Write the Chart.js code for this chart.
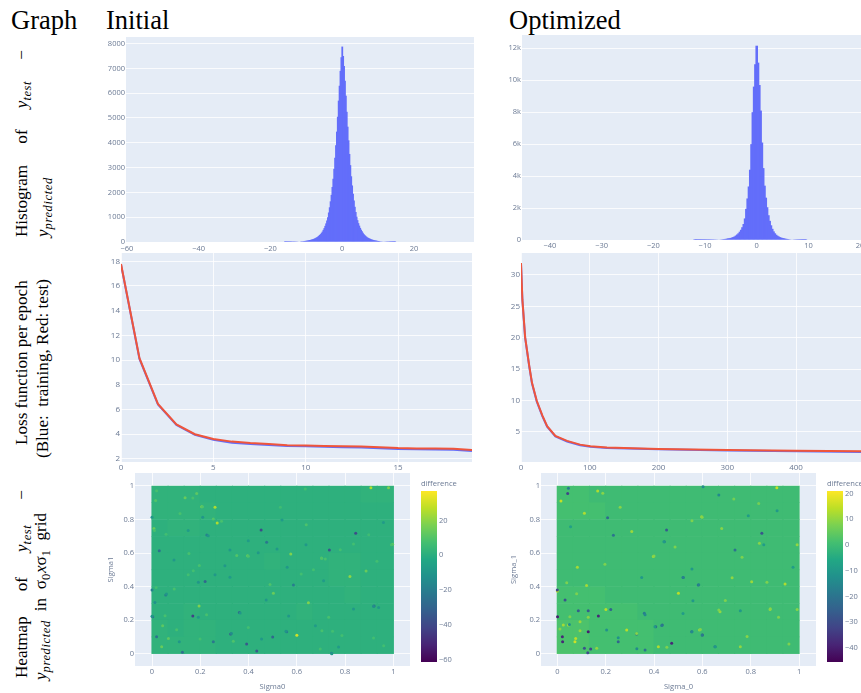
<!DOCTYPE html>
<html>
<head>
<meta charset="utf-8">
<title>Graph: Initial and Optimized</title>
<script src="https://cdn.jsdelivr.net/npm/chart.js@4"></script>
<style>
  html, body { margin: 0; padding: 0; background: #fff; }
  #page { position: relative; width: 861px; height: 693px; overflow: hidden; }
  canvas { position: absolute; filter: blur(0.6px); }
  .head { position: absolute; font: 26.5px "Liberation Serif", serif; line-height: 1; white-space: nowrap; color: #000; }
  .side { position: absolute; transform-origin: 0 0; transform: rotate(-90deg); font: 17.1px "Liberation Serif", serif; line-height: 18px; color: #000; white-space: nowrap; }
  .fit { text-align: justify; text-align-last: justify; white-space: normal; }
  .side sub { font-size: 12.5px; line-height: 0; letter-spacing: 0.6px; }
  .cb { position: absolute; font: 7.6px "Open Sans", sans-serif; line-height: 1; color: #6b7a94; white-space: nowrap; filter: blur(0.3px); }
</style>
</head>
<body>
<div id="page">
  <div class="head" style="left:11px;top:7px">Graph</div>
  <div class="head" style="left:106px;top:7px">Initial</div>
  <div class="head" style="left:509px;top:7px">Optimized</div>

  <div class="side fit" style="left:13px;top:237px;width:187px">Histogram of <i>y<sub>test</sub></i> −</div>
  <div class="side" style="left:34px;top:237px"><i>y<sub>predicted</sub></i></div>
  <div class="side" style="left:13px;top:445px">Loss function per epoch</div>
  <div class="side" style="left:34px;top:458px">(Blue:&nbsp; training, Red: test)</div>
  <div class="side fit" style="left:13px;top:678px;width:188px">Heatmap of <i>y<sub>test</sub></i> −</div>
  <div class="side fit" style="left:32px;top:680px;width:167px"><i>y<sub>predicted</sub></i> in σ<sub>0</sub><i>x</i>σ<sub>1</sub> grid</div>

  <div class="cb" style="left:421px;top:480px">difference</div>
  <div class="cb" style="left:827px;top:480px">difference</div>

  <canvas id="histInitial" width="374" height="217" style="left:100px;top:37px"></canvas>
  <canvas id="histOptimized" width="361" height="217" style="left:500px;top:35px"></canvas>
  <canvas id="lossInitial" width="371" height="219" style="left:101px;top:253px"></canvas>
  <canvas id="lossOptimized" width="361" height="219" style="left:500px;top:253px"></canvas>
  <canvas id="heatInitial" width="304" height="218" style="left:106px;top:473px"></canvas>
  <canvas id="heatOptimized" width="307" height="218" style="left:509px;top:473px"></canvas>
  <canvas id="barInitial" width="40" height="188" style="left:421px;top:484px"></canvas>
  <canvas id="barOptimized" width="34" height="188" style="left:827px;top:484px"></canvas>
</div>

<script>
// Histogramas: conteo por bin, leidos a ojo del contorno de cada panel
const histInitialStart = -16;
const histInitialWidth = 0.25;
const histInitialCounts = [3,3,4,4,5,5,6,7,8,9,10,11,13,14,16,18,20,23,26,29,32,36,40,45,50,56,62,70,78,88,98,110,122,138,155,175,195,222,250,285,320,370,420,490,560,650,750,870,1000,1190,1400,1640,1900,2220,2550,2950,3400,3900,4450,5050,5700,6300,6900,7450,7880,7500,7100,6500,5900,5250,4650,4100,3550,3100,2650,2280,1950,1670,1420,1210,1020,880,760,660,570,495,430,375,320,280,245,212,185,165,145,128,112,100,88,78,68,60,54,47,42,37,33,29,26,23,20,17,15,13,11,9,8,7,6,5,4,3,2,2];
const histInitialTicksX = [-60,-40,-20,0,20];
const histInitialTicksY = [0,1000,2000,3000,4000,5000,6000,7000,8000];

const histOptimizedStart = -12;
const histOptimizedWidth = 0.25;
const histOptimizedCounts = [2,2,3,3,4,4,5,6,7,8,9,10,12,14,16,18,21,24,28,33,38,44,52,60,70,82,96,112,130,155,185,225,280,345,420,520,640,800,1000,1350,1950,2600,3350,4400,6000,8000,9600,11000,12160,11100,9700,8100,6100,4500,3400,2650,2050,1550,1200,920,700,540,420,330,265,215,175,145,120,100,84,70,58,48,40,33,27,22,18,15,12,9,7,5,4,3,2];
const histOptimizedTicksX = [-40,-30,-20,-10,0,10,20];
const histOptimizedTicksY = [0,2000,4000,6000,8000,10000,12000];

// Loss por epoca
const lossInitialEpochs = [0,1,2,3,4,5,6,7,8,9,10,11,12,13,14,15,16,17,18,19];
const lossInitialTrain = [17.75,10.1,6.4,4.75,3.95,3.55,3.3,3.2,3.12,3.05,3.02,2.98,2.95,2.92,2.87,2.8,2.78,2.77,2.75,2.65];
const lossInitialTest = [17.78,10.15,6.45,4.8,4.0,3.62,3.4,3.28,3.2,3.1,3.08,3.05,3.03,3.0,2.95,2.88,2.85,2.84,2.83,2.72];
const lossInitialTicksX = [0,5,10,15];
const lossInitialTicksY = [2,4,6,8,10,12,14,16,18];

const lossOptimizedEpochs = [0,2,6,12,16,23,31,38,50,67,86,101,125,200,300,400,495];
const lossOptimizedTrain = [31.8,26,20,15.4,12.7,9.8,7.5,5.8,4.25,3.45,2.85,2.6,2.4,2.2,2.0,1.9,1.78];
const lossOptimizedTest = [31.9,26.1,20.1,15.5,12.8,9.9,7.6,5.9,4.35,3.55,2.95,2.7,2.5,2.27,2.08,1.98,1.9];
const lossOptimizedTicksX = [0,100,200,300,400];
const lossOptimizedTicksY = [5,10,15,20,25,30];

// Heatmaps: el panel original tiene miles de puntos que no se pueden leer uno a uno.
// Las filas son el tono medio por zona (fila 0 = Sigma alto) y las motas son
// [x, y, valor] de las manchas que si se distinguen en la imagen, todo estimado a ojo.
const heatInitialRows = [
  [2,2,2,1,1,1,1,1,1,1,1,1,1,2,2],
  [2,2,2,2,1,1,1,1,1,1,1,1,1,1,1],
  [1,2,2,1,1,1,1,1,1,1,1,1,1,1,1],
  [1,1,1,1,1,1,1,1,1,1,1,1,1,1,1],
  [1,1,1,1,1,1,1,2,1,1,1,2,2,1,1],
  [1,1,1,1,1,1,1,1,1,1,1,2,2,1,1],
  [1,1,1,1,1,1,1,1,1,1,1,1,2,1,1],
  [1,1,2,1,1,1,1,1,1,2,1,1,1,1,1],
  [2,1,2,2,1,1,1,1,1,1,1,1,1,1,1],
  [2,2,2,2,1,1,1,1,1,1,1,1,1,1,1]
];
const heatInitialSpots = [
  [.907,.99,25],[.98,.99,18],[.206,.877,18],[.261,.873,25],[.27,.78,25],[.137,.93,14],[.185,.956,12],[.6,.11,30],[.195,.284,18],[.82,.46,20],
  [.648,.304,18],[.575,.594,18],[.396,.584,14],[.887,.493,14],[.503,.36,14],[.04,.042,14],[.068,.091,12],[.008,.747,14],[.997,.652,12],[.703,.569,12],
  [.452,.737,-38],[.844,.718,-38],[.735,.618,-35],[.169,.225,-42],[.326,.117,-34],[.5,.1,-28],[.126,.008,-25],[.434,.016,-34],[.392,.058,-34],[.92,.284,-28],
  [.362,.245,-28],[.475,.664,-22],[.03,.614,-24],[.227,.708,-18],[.22,.43,-28],[.003,.22,-24],[0,.38,-18],[.057,.35,-20],[.558,.131,-22],[.586,.41,-20],
  [.254,.072,-22],[.019,.101,-24],[.744,.002,-18],
  [.019,.972,8],[.015,.913,10],[.169,.928,8],[.209,.877,10],[.116,.836,8],[.254,.803,10],[.288,.79,8],[.01,.734,8],[.058,.713,7],[.153,.598,8],
  [.351,.585,10],[.399,.581,9],[.196,.526,8],[.171,.495,7],[.15,.471,7],[.489,.412,9],[.092,.386,8],[.017,.395,7],[.054,.227,8],[.044,.167,12],
  [.226,.233,8],[.102,.143,8],[.199,.088,7],[.337,.074,9],[.399,.157,7],[.639,.769,9],[.702,.571,9],[.718,.564,8],[.932,.551,7],[.992,.65,8],
  [.732,.217,8],[.704,.137,8],[.748,.134,7],[.787,.109,7],[.669,.5,7],[.618,.475,7],[.78,.62,7],[.835,.654,7],[.532,.873,6],[.635,.982,7],
  [.697,.028,7],[.96,.048,7],[.918,.094,7],[.898,.71,6],
  [0,.813,-9],[.21,.813,-10],[.091,.559,-9],[.233,.703,-10],[.323,.618,-9],[.302,.524,-9],[.261,.471,-9],[.192,.426,-10],[.06,.356,-10],[.012,.306,-12],
  [.473,.32,-9],[.365,.243,-10],[0,.224,-10],[.192,.217,-9],[.113,.071,-10],[.329,.121,-14],[.454,.088,-9],[.15,.734,-8],[.399,.674,-8],[.44,.602,-9],
  [.323,.456,-8],[.638,.65,-9],[.518,.624,-9],[.56,.515,-9],[.918,.283,-14],[.566,.225,-9],[.555,.134,-11],[.711,.435,-8],[.539,.797,-8],[.835,.266,-9],
  [.939,.276,-9],[.959,.783,-8],[.677,.167,-8],[.745,0,-9],[.773,.04,-8]
];
const heatInitialTicks = [0,0.2,0.4,0.6,0.8,1];
const barInitialTicks = [20,0,-20,-40,-60];

const heatOptimizedRows = [
  [1,1,0,0,0,0,0,0,0,0,0,0,0,0,0],
  [1,1,1,0,0,0,0,0,0,0,0,0,0,0,0],
  [0,0,0,0,0,0,0,0,0,0,0,0,0,0,0],
  [0,0,0,0,0,0,0,0,0,0,0,0,0,0,0],
  [0,0,0,0,0,0,0,0,0,0,0,0,0,0,0],
  [0,0,0,0,0,0,0,0,0,0,0,0,0,0,0],
  [1,1,1,0,0,0,0,0,0,0,0,0,0,0,0],
  [1,1,1,1,1,0,0,0,0,0,0,0,0,0,0],
  [2,2,1,1,1,1,0,0,0,0,0,0,0,0,0],
  [2,2,1,1,1,1,0,0,0,0,0,0,0,0,0]
];
const heatOptimizedSpots = [
  [.015,.91,15],[.112,.837,13],[.073,.072,16],[0,.374,16],[.397,.579,11],[.083,.515,12],[.121,.406,12],[.201,.264,14],[.287,.141,14],[.501,.36,14],
  [.908,.99,15],[.167,.97,13],[.597,.817,11],[.804,.429,11],[.942,.416,13],[.88,.264,10],[.418,.042,13],[.308,.728,11],[.025,.171,12],[.046,.171,12],
  [.094,.191,11],[.673,.25,10],[.588,.141,10],
  [.043,.956,-32],[.001,.221,-40],[0,.38,-30],[.032,.32,-28],[.087,.256,-26],[.128,.256,-26],[.221,.264,-24],[.17,.225,-38],[.021,.101,-38],[.022,.072,-38],
  [.128,.131,-40],[.112,.032,-28],[.138,.028,-32],[.126,.006,-30],[.208,.811,-22],[.232,.706,-20],[.452,.738,-26],[.846,.718,-28],[.735,.618,-20],[.521,.455,-22],
  [.583,.41,-22],[.6,.111,-28],[.473,.062,-38],[.434,.171,-24],[.407,.161,-24],[.252,.072,-24],[.328,.117,-24],[.046,.986,-18],[.363,.022,-20],[.556,.131,-22],
  [.652,.042,-18],[.36,.241,-18],[.443,.668,-16],
  [.188,.957,9],[.26,.873,9],[.4,.582,9],[.197,.533,8],[.08,.357,8],[.076,.091,14],[.128,.217,9],[.039,.423,8],[.328,.121,9],[.487,.637,8],
  [.163,.032,10],[.094,.137,10],[.011,.147,9],[.052,.221,8],[.453,.038,8],[.599,.813,9],[.68,.747,9],[.836,.658,9],[.992,.65,10],[.557,.793,8],
  [.723,.453,10],[.867,.426,8],[.881,.268,9],[.695,.317,8],[.668,.26,8],[.757,.042,10],[.592,.144,8],[.785,.102,9],[.992,.263,9],[.958,.058,8],
  [.833,.896,7],[.73,.923,7],[.764,.575,8],[.915,.217,8],
  [.055,.757,-8],[.441,.667,-10],[.204,.142,-12],[.252,.095,-12],[.432,.168,-18],[.363,.233,-14],[.329,.03,-14],[.349,.454,-10],[.05,.174,-12],[.404,.16,-10],
  [.668,.946,-14],[.603,.995,-14],[.909,.852,-10],[.79,.822,-9],[.52,.455,-16],[.585,.411,-16],[.557,.505,-10],[.975,.515,-9],[.561,.316,-10],[.757,.256,-10],
  [.599,.111,-18],[.557,.131,-14],[.654,.042,-10],[.854,.649,-9],[.52,.24,-9]
];
const heatOptimizedTicks = [0,0.2,0.4,0.6,0.8,1];
const barOptimizedTicks = [20,10,0,-10,-20,-30,-40];

const viridisStops = [[68,1,84],[72,36,117],[65,68,135],[53,95,141],[42,120,142],[33,145,140],[34,168,132],[68,191,112],[122,209,81],[189,223,38],[253,231,37]];

const plotBack = "#e5ecf6";
const tickColor = "#6b7a94";
Chart.defaults.animation = false;
Chart.defaults.font.family = "'Open Sans', sans-serif";

function viridis(t) {
    const p = Math.min(Math.max(t, 0), 1) * (viridisStops.length - 1);
    const i = Math.min(Math.floor(p), viridisStops.length - 2);
    const f = p - i;
    const a = viridisStops[i], b = viridisStops[i + 1];
    return `rgb(${a.map((c, k) => Math.round(c + (b[k] - c) * f)).join(",")})`;
}

const backPlugin = {
    id: "backPlugin",
    beforeDraw(chart) {
        const a = chart.chartArea;
        chart.ctx.fillStyle = plotBack;
        chart.ctx.fillRect(a.left, a.top, a.right - a.left, a.bottom - a.top);
    }
};

function minusLabel(v) {
    return String(v).replace("-", "\u2212");
}

// Eje con ticks fijos y tamano fijo, asi el area del grafico cae donde debe
function axis(o) {
    const horizontal = o.position === "bottom";
    return {
        type: "linear",
        position: o.position,
        min: o.min,
        max: o.max,
        offset: false,
        border: { display: false },
        grid: { display: o.grid !== false, color: "rgba(255,255,255,0.8)", lineWidth: 1, drawTicks: false, offset: false },
        title: o.title ? { display: true, text: o.title, color: tickColor, font: { size: 7.6 }, padding: 0 } : { display: false },
        ticks: {
            color: tickColor,
            font: { size: o.font || 7.5 },
            padding: o.pad,
            autoSkip: false,
            maxRotation: 0,
            minRotation: 0,
            callback: o.format || minusLabel
        },
        afterBuildTicks(s) {
            s.ticks = o.ticks.map(v => ({ value: v }));
        },
        afterFit(s) {
            if (horizontal) {
                s.height = o.size;
                s.paddingLeft = 0;
                s.paddingRight = 0;
            } else {
                s.width = o.size;
                s.paddingTop = 0;
                s.paddingBottom = 0;
            }
        }
    };
}

function baseOptions(x, y) {
    return {
        responsive: false,
        layout: { padding: 0, autoPadding: false },
        plugins: { legend: { display: false }, tooltip: { enabled: false }, title: { display: false } },
        scales: { x: x, y: y }
    };
}

function histogram(id, start, width, counts, x, y) {
    new Chart(document.getElementById(id), {
        type: "bar",
        data: {
            datasets: [{
                data: counts.map((c, i) => ({ x: start + i * width, y: c })),
                backgroundColor: "#636efa",
                borderWidth: 0,
                barPercentage: 2,
                categoryPercentage: 1
            }]
        },
        options: baseOptions(axis(x), axis(y)),
        plugins: [backPlugin]
    });
}

function lossChart(id, epochs, train, test, x, y) {
    const line = (vals, color) => ({
        data: vals.map((v, i) => ({ x: epochs[i], y: v })),
        borderColor: color,
        borderWidth: 2,
        pointRadius: 0,
        tension: 0
    });
    // el primer dataset queda encima, el rojo tapa al azul
    new Chart(document.getElementById(id), {
        type: "line",
        data: { datasets: [line(test, "#ef553b"), line(train, "#636efa")] },
        options: baseOptions(axis(x), axis(y)),
        plugins: [backPlugin]
    });
}

function heatChart(id, rows, spots, low, high, x, y) {
    const norm = v => viridis((v - low) / (high - low));
    const cells = [];
    rows.forEach((row, r) => row.forEach((v, c) => {
        cells.push({ x: (c + 0.5) / row.length, y: 1 - (r + 0.5) / rows.length, v: v });
    }));
    const dots = spots.map(s => ({ x: s[0], y: s[1], v: s[2] }));
    new Chart(document.getElementById(id), {
        type: "scatter",
        data: {
            datasets: [
                { data: dots, pointStyle: "circle", pointRadius: 1.5, pointBorderWidth: 0, pointBackgroundColor: dots.map(d => norm(d.v)), order: 1 },
                { data: cells, pointStyle: "rect", pointRadius: 12.2, pointBorderWidth: 0, pointBackgroundColor: cells.map(d => norm(d.v)), order: 2 }
            ]
        },
        options: baseOptions(axis(x), axis(y)),
        plugins: [backPlugin]
    });
}

function colorBar(id, low, high, ticks, plotWidth) {
    new Chart(document.getElementById(id), {
        type: "bar",
        data: {
            labels: [""],
            datasets: [{
                data: [[low, high]],
                barPercentage: 1,
                categoryPercentage: 1,
                borderWidth: 0,
                backgroundColor(ctx) {
                    const a = ctx.chart.chartArea;
                    if (!a) return "#21918c";
                    const g = ctx.chart.ctx.createLinearGradient(0, a.bottom, 0, a.top);
                    viridisStops.forEach((s, i) => g.addColorStop(i / (viridisStops.length - 1), `rgb(${s.join(",")})`));
                    return g;
                }
            }]
        },
        options: {
            responsive: false,
            layout: { padding: { top: 7, bottom: 10 }, autoPadding: false },
            plugins: { legend: { display: false }, tooltip: { enabled: false } },
            scales: {
                x: { display: false },
                y: axis({ position: "right", min: low, max: high, ticks: ticks, pad: 2, grid: false, size: document.getElementById(id).width - plotWidth })
            }
        }
    });
}

const kLabel = v => (v === 0 ? "0" : v / 1000 + "k");

histogram("histInitial", histInitialStart, histInitialWidth, histInitialCounts,
    { position: "bottom", min: -60.25, max: 36.7, ticks: histInitialTicksX, pad: 2, size: 12, grid: false },
    { position: "left", min: 0, max: 8266, ticks: histInitialTicksY, pad: 1, size: 26 });
histogram("histOptimized", histOptimizedStart, histOptimizedWidth, histOptimizedCounts,
    { position: "bottom", min: -45.4, max: 20.17, ticks: histOptimizedTicksX, pad: 1.5, size: 12, grid: false },
    { position: "left", min: 0, max: 12830, ticks: histOptimizedTicksY, pad: 1, size: 22, format: kLabel });

lossChart("lossInitial", lossInitialEpochs, lossInitialTrain, lossInitialTest,
    { position: "bottom", min: 0, max: 19, ticks: lossInitialTicksX, pad: 1, size: 10, font: 8 },
    { position: "left", min: 1.75, max: 18.67, ticks: lossInitialTicksY, pad: 1, size: 20, font: 8 });
lossChart("lossOptimized", lossOptimizedEpochs, lossOptimizedTrain, lossOptimizedTest,
    { position: "bottom", min: 0, max: 494.5, ticks: lossOptimizedTicksX, pad: 1, size: 10, font: 8 },
    { position: "left", min: 0.18, max: 33.5, ticks: lossOptimizedTicksY, pad: 1, size: 21, font: 8 });

heatChart("heatInitial", heatInitialRows, heatInitialSpots, -61, 36.8,
    { position: "bottom", min: -0.0705, max: 1.069, ticks: heatInitialTicks, pad: 1.5, size: 25, title: "Sigma0" },
    { position: "left", min: -0.0733, max: 1.0775, ticks: heatInitialTicks, pad: 1, size: 29, title: "Sigma1" });
heatChart("heatOptimized", heatOptimizedRows, heatOptimizedSpots, -45.5, 21,
    { position: "bottom", min: -0.0674, max: 1.07, ticks: heatOptimizedTicks, pad: 1.5, size: 25, title: "Sigma_0" },
    { position: "left", min: -0.0733, max: 1.0775, ticks: heatOptimizedTicks, pad: 1, size: 32, title: "Sigma_1" });

colorBar("barInitial", -61, 36.8, barInitialTicks, 16);
colorBar("barOptimized", -45.5, 21, barOptimizedTicks, 16);
</script>
</body>
</html>
